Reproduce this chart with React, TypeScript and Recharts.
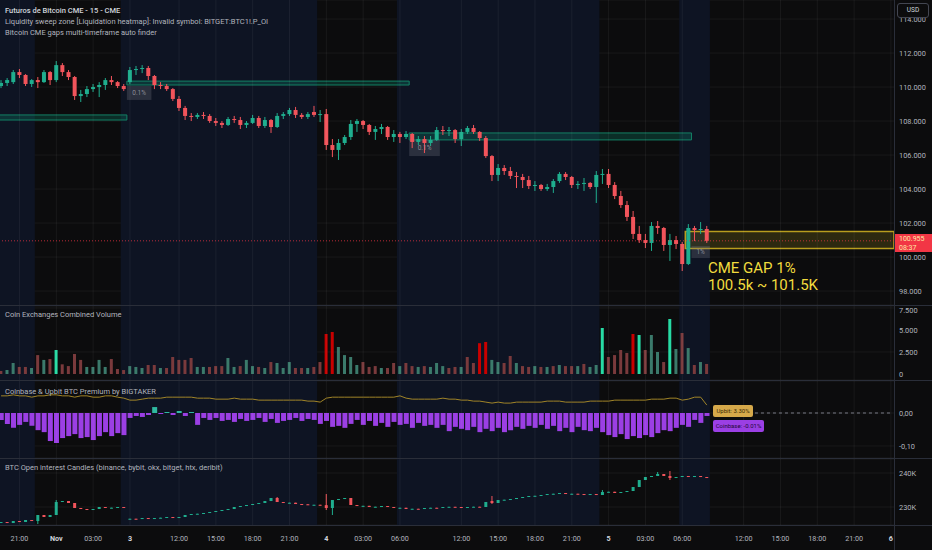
import React from "react";
import {
  ComposedChart,
  Bar,
  Line,
  XAxis,
  YAxis,
  CartesianGrid,
  ReferenceArea,
  ReferenceLine,
  Cell,
} from "recharts";

// 30-minute slots on the CME session timeline (KST), data stops at slot 115
const TOTAL_SLOTS = 146;

const tickSlots = [3, 9, 15, 21, 29, 35, 41, 47, 53, 59, 65, 75, 81, 87, 93, 99, 105, 111, 121, 127, 133, 139, 145];
const tickLabels = ["21:00", "Nov", "03:00", "3", "12:00", "15:00", "18:00", "21:00", "4", "03:00", "06:00", "12:00", "15:00", "18:00", "21:00", "5", "03:00", "06:00", "12:00", "15:00", "18:00", "21:00", "6"];
const dayLabels = ["Nov", "3", "4", "5", "6"];

// navy session shading, by slot range
const navySessions: [number, number][] = [[0, 5], [20, 51], [65, 97], [111, 115]];

// BTC CME futures, price in thousand USD
const candleOpen = [
  110.06, 110.24, 110.29, 110.88, 110.71, 110.18, 110.41, 110.29, 110.88, 110.41,
  111.29, 110.88, 110.59, 109.47, 109.59, 109.88, 110.0, 110.12, 110.41, 110.29,
  110.06, 110.29, 111.0, 111.06, 111.12, 110.65, 110.12, 110.06, 109.88, 109.3,
  108.77, 108.3, 108.24, 108.36, 108.3, 108.0, 107.89, 107.77, 108.12, 108.06,
  107.77, 107.89, 108.18, 107.71, 108.06, 107.65, 108.3, 108.41, 108.65, 108.36,
  108.24, 108.53, 108.36, 108.41, 106.59, 106.3, 106.71, 107.06, 107.83, 108.0,
  107.77, 107.36, 107.53, 107.65, 107.06, 107.24, 107.06, 107.24, 106.77, 106.94,
  106.71, 106.89, 107.47, 107.41, 107.47, 106.94, 107.36, 107.59, 107.36, 107.0,
  105.94, 104.83, 105.24, 105.06, 104.77, 104.71, 104.53, 104.18, 104.24, 104.0,
  104.12, 104.47, 104.89, 104.71, 104.24, 104.3, 104.36, 104.12, 104.83, 104.89,
  104.24, 103.59, 103.06, 102.36, 101.36, 101.0, 100.83, 101.83, 101.71, 100.71,
  101.0, 100.77, 99.59, 101.71, 101.59, 101.65,
];
const candleHigh = [
  110.41, 110.53, 111.0, 111.06, 110.76, 110.47, 110.59, 111.0, 110.94, 111.53,
  111.41, 111.0, 110.65, 109.83, 110.06, 110.18, 110.29, 110.53, 110.65, 110.35,
  110.18, 111.18, 111.24, 111.29, 111.24, 110.71, 110.29, 110.18, 109.94, 109.47,
  108.89, 108.47, 108.47, 108.53, 108.41, 108.18, 108.0, 108.24, 108.3, 108.24,
  108.0, 108.36, 108.3, 108.24, 108.12, 108.47, 108.53, 108.77, 108.83, 108.47,
  108.53, 108.89, 108.65, 108.71, 106.94, 106.94, 107.18, 108.06, 108.12, 108.06,
  107.83, 107.71, 107.83, 107.71, 107.47, 107.36, 107.41, 107.3, 107.12, 107.12,
  107.12, 107.65, 107.71, 107.65, 107.53, 107.53, 107.71, 107.77, 107.41, 107.12,
  106.0, 105.47, 105.41, 105.3, 105.0, 104.89, 104.77, 104.47, 104.3, 104.3,
  104.59, 105.0, 105.0, 104.77, 104.47, 104.65, 104.41, 105.06, 105.18, 105.18,
  104.41, 103.89, 103.3, 102.71, 101.83, 101.36, 102.06, 102.12, 101.77, 101.36,
  101.24, 100.89, 101.94, 101.83, 102.06, 101.83,
];
const candleLow = [
  109.94, 110.06, 110.18, 110.53, 110.06, 110.0, 109.94, 110.24, 110.12, 110.29,
  110.65, 110.41, 109.24, 109.12, 109.41, 109.71, 109.41, 109.83, 110.12, 109.94,
  109.77, 110.18, 110.71, 110.82, 110.41, 109.88, 109.88, 109.77, 109.18, 108.59,
  108.06, 108.0, 108.12, 108.12, 107.89, 107.71, 107.59, 107.71, 107.89, 107.53,
  107.59, 107.83, 107.59, 107.59, 107.3, 107.59, 108.12, 108.3, 108.18, 108.12,
  108.12, 108.24, 107.94, 106.3, 105.88, 105.71, 106.59, 106.89, 107.36, 107.53,
  107.18, 106.89, 107.24, 106.89, 106.77, 106.71, 106.94, 106.41, 106.59, 106.12,
  106.53, 106.83, 107.18, 107.12, 106.71, 106.53, 107.24, 107.24, 106.83, 105.83,
  104.47, 104.47, 104.83, 104.59, 104.06, 104.06, 104.0, 103.89, 103.89, 103.89,
  103.77, 104.36, 104.53, 104.06, 104.0, 103.89, 104.0, 103.18, 104.3, 104.06,
  103.41, 102.89, 102.12, 101.06, 100.83, 100.53, 100.36, 101.36, 100.36, 99.77,
  100.47, 99.18, 99.53, 100.94, 101.36, 100.83,
];
const candleClose = [
  110.24, 110.41, 110.88, 110.71, 110.18, 110.41, 110.29, 110.88, 110.41, 111.29,
  110.88, 110.59, 109.47, 109.59, 109.88, 110.0, 110.12, 110.41, 110.29, 110.06,
  109.88, 111.0, 111.06, 111.12, 110.65, 110.12, 110.06, 109.88, 109.3, 108.77,
  108.3, 108.24, 108.36, 108.3, 108.0, 107.89, 107.77, 108.12, 108.06, 107.77,
  107.89, 108.18, 107.71, 108.06, 107.65, 108.3, 108.41, 108.65, 108.36, 108.24,
  108.41, 108.36, 108.41, 106.59, 106.3, 106.71, 107.06, 107.83, 108.0, 107.77,
  107.36, 107.53, 107.65, 107.06, 107.24, 107.06, 107.24, 106.77, 106.94, 106.71,
  106.89, 107.47, 107.41, 107.47, 106.94, 107.36, 107.59, 107.36, 107.0, 105.94,
  104.83, 105.24, 105.06, 104.77, 104.71, 104.53, 104.18, 104.24, 104.0, 104.12,
  104.47, 104.89, 104.71, 104.24, 104.3, 104.36, 104.12, 104.83, 104.89, 104.24,
  103.59, 103.06, 102.36, 101.36, 101.0, 100.83, 101.83, 101.71, 100.71, 101.0,
  100.77, 99.59, 101.71, 101.59, 101.65, 100.955,
];
const lastPrice = 100.955;

// liquidity sweep zones and CME gap (thousand USD)
const sweepZones = [
  { from: 0, to: 20, low: 108.06, high: 108.36 },
  { from: 21, to: 66, low: 110.12, high: 110.35 },
  { from: 67, to: 112, low: 106.89, high: 107.3 },
];
const cmeGap = { from: 112, to: 145, low: 100.5, high: 101.5 };
const gapTags = [
  { from: 21, to: 24, low: 109.24, high: 110.06, text: "0.1%" },
  { from: 67, to: 71, low: 105.94, high: 106.89, text: "0.1%" },
  { from: 113, to: 115, low: 99.94, high: 100.65, text: "1%" },
];

// combined exchange volume; u/d muted, U/D highlighted
const volume = [
  340, 450, 1250, 800, 800, 680, 2150, 1600, 1700, 2730,
  1100, 900, 2270, 1600, 800, 800, 1600, 800, 1700, 570,
  450, 900, 800, 680, 1020, 1020, 680, 680, 1930, 1600,
  1600, 1820, 800, 800, 800, 900, 900, 1820, 800, 900,
  1600, 900, 800, 680, 1360, 1250, 680, 1360, 680, 680,
  680, 800, 1360, 4545, 4770, 3070, 2150, 1930, 1020, 1360,
  800, 900, 680, 680, 1250, 900, 1250, 900, 800, 900,
  800, 1250, 900, 680, 800, 800, 1930, 1250, 3500, 3640,
  1600, 1360, 1250, 2050, 1250, 900, 800, 900, 800, 800,
  900, 1020, 900, 900, 900, 1140, 800, 1020, 5230, 1930,
  2150, 2730, 2390, 4545, 4430, 2730, 4430, 2500, 1360, 6250,
  2840, 4660, 2950, 1020, 1360, 1140,
];
const volumeKind = [
  "d", "u", "u", "d", "d", "u", "d", "u", "d", "U",
  "d", "d", "d", "d", "u", "u", "u", "u", "d", "d",
  "d", "u", "u", "u", "d", "d", "u", "d", "d", "d",
  "d", "d", "u", "u", "d", "d", "d", "u", "u", "d",
  "u", "u", "d", "u", "d", "u", "u", "u", "d", "d",
  "u", "d", "d", "D", "D", "u", "u", "u", "u", "d",
  "d", "d", "u", "d", "d", "u", "d", "d", "u", "d",
  "u", "u", "u", "d", "d", "u", "d", "d", "D", "D",
  "u", "u", "d", "d", "u", "d", "d", "u", "d", "u",
  "d", "u", "d", "d", "u", "d", "u", "u", "U", "d",
  "d", "d", "d", "D", "U", "d", "u", "u", "d", "U",
  "u", "d", "u", "d", "u", "d",
];

// Coinbase premium (%) and Upbit premium line
const coinbasePremium = [
  -0.021, -0.033, -0.045, -0.036, -0.027, -0.039, -0.052, -0.058, -0.085, -0.091,
  -0.076, -0.07, -0.064, -0.076, -0.073, -0.082, -0.07, -0.058, -0.07, -0.061,
  -0.067, -0.015, -0.009, -0.012, -0.006, 0.018, -0.003, 0.003, -0.006, 0.006,
  -0.009, 0.003, -0.036, -0.015, -0.021, -0.015, -0.024, -0.021, -0.027, -0.018,
  -0.024, -0.021, -0.015, -0.027, -0.018, -0.03, -0.024, -0.021, -0.015, -0.024,
  -0.018, -0.021, -0.033, -0.024, -0.042, -0.039, -0.045, -0.033, -0.021, -0.036,
  -0.024, -0.039, -0.03, -0.042, -0.027, -0.036, -0.033, -0.045, -0.03, -0.039,
  -0.036, -0.045, -0.036, -0.055, -0.042, -0.048, -0.052, -0.042, -0.058, -0.048,
  -0.055, -0.045, -0.058, -0.052, -0.042, -0.048, -0.039, -0.045, -0.036, -0.048,
  -0.039, -0.055, -0.045, -0.058, -0.042, -0.052, -0.055, -0.045, -0.058, -0.067,
  -0.073, -0.064, -0.079, -0.07, -0.076, -0.067, -0.073, -0.061, -0.052, -0.055,
  -0.045, -0.036, -0.042, -0.021, -0.03, -0.009,
];
const upbitPremium = [
  0.052, 0.052, 0.055, 0.052, 0.052, 0.048, 0.052, 0.052, 0.055, 0.055,
  0.052, 0.052, 0.048, 0.052, 0.052, 0.048, 0.048, 0.052, 0.052, 0.048,
  0.045, 0.039, 0.039, 0.042, 0.045, 0.045, 0.045, 0.048, 0.048, 0.048,
  0.048, 0.048, 0.045, 0.045, 0.045, 0.042, 0.042, 0.042, 0.045, 0.042,
  0.042, 0.042, 0.039, 0.039, 0.039, 0.039, 0.039, 0.039, 0.039, 0.039,
  0.036, 0.036, 0.033, 0.045, 0.048, 0.048, 0.048, 0.048, 0.048, 0.048,
  0.048, 0.048, 0.048, 0.048, 0.048, 0.052, 0.045, 0.042, 0.042, 0.042,
  0.042, 0.042, 0.045, 0.042, 0.042, 0.039, 0.039, 0.036, 0.036, 0.033,
  0.03, 0.033, 0.03, 0.03, 0.033, 0.033, 0.033, 0.033, 0.033, 0.036,
  0.036, 0.036, 0.033, 0.033, 0.033, 0.033, 0.036, 0.036, 0.036, 0.036,
  0.039, 0.039, 0.039, 0.039, 0.039, 0.039, 0.042, 0.042, 0.042, 0.045,
  0.045, 0.039, 0.042, 0.048, 0.048, 0.024,
];

// open interest candles (K)
const oiOpen = [
  225.29, 225.59, 225.29, 225.88, 225.59, 226.18, 225.88, 227.65, 227.06, 227.65,
  231.47, 231.76, 231.18, 229.71, 229.41, 229.12, 229.41, 230.0, 229.71, 229.71,
  230.0, 226.47, 226.55, 226.47, 226.76, 226.47, 226.76, 226.85, 227.06, 226.76,
  227.06, 227.65, 227.94, 228.02, 228.24, 228.53, 228.82, 229.12, 229.41, 230.0,
  230.29, 230.59, 230.88, 231.18, 231.76, 232.65, 231.47, 231.18, 231.26, 230.88,
  230.8, 230.59, 230.66, 230.55, 229.71, 232.06, 232.35, 232.65, 230.59, 230.29,
  230.35, 230.0, 230.08, 230.29, 230.0, 229.71, 229.78, 229.41, 229.48, 229.41,
  229.71, 229.78, 229.71, 230.0, 230.06, 230.0, 229.71, 230.0, 230.08, 230.0,
  231.76, 231.18, 232.06, 232.14, 232.35, 232.65, 232.94, 233.24, 233.3, 233.53,
  233.82, 233.9, 234.12, 233.82, 233.9, 233.82, 233.53, 233.82, 233.53, 234.41,
  234.48, 234.12, 234.41, 234.71, 235.88, 237.94, 238.82, 239.12, 239.71, 239.12,
  238.53, 238.82, 239.12, 238.82, 239.12, 238.82,
];
const oiClose = [
  225.59, 225.29, 225.88, 225.59, 226.18, 225.88, 227.65, 227.06, 227.65, 231.47,
  231.76, 231.18, 229.71, 229.41, 229.12, 229.41, 230.0, 229.71, 229.8, 230.0,
  229.71, 226.55, 226.47, 226.76, 226.47, 226.76, 226.85, 227.06, 226.76, 227.06,
  227.65, 227.94, 228.02, 228.24, 228.53, 228.82, 229.12, 229.41, 230.0, 230.29,
  230.59, 230.88, 231.18, 231.76, 232.65, 231.47, 231.18, 231.26, 230.88, 230.8,
  230.59, 230.66, 230.55, 229.71, 232.06, 232.35, 232.65, 230.59, 230.29, 230.35,
  230.0, 230.08, 230.29, 230.0, 229.71, 229.78, 229.41, 229.48, 229.41, 229.71,
  229.78, 229.71, 230.0, 230.06, 230.0, 229.71, 230.0, 230.08, 230.0, 231.47,
  231.18, 232.06, 232.14, 232.35, 232.65, 232.94, 233.24, 233.3, 233.53, 233.82,
  233.9, 234.12, 233.82, 233.9, 233.82, 233.53, 233.82, 233.53, 234.41, 234.48,
  234.12, 234.41, 234.71, 235.88, 237.94, 238.82, 239.12, 239.71, 239.12, 238.53,
  238.82, 239.12, 238.82, 239.12, 238.82, 238.53,
];
// only the candles with a visible wick
const oiWicks: { i: number; high?: number; low?: number }[] = [
  { i: 6, low: 225.0 },
  { i: 9, high: 232.06 },
  { i: 45, high: 232.94 },
  { i: 53, high: 233.82, low: 229.12 },
  { i: 54, low: 227.65 },
  { i: 80, high: 233.24, low: 230.88 },
  { i: 98, high: 235.0 },
  { i: 107, high: 240.29 },
  { i: 109, high: 240.59, low: 237.94 },
];

const FONT = "Roboto, 'Noto Sans', Arial, sans-serif";
const UP = "#1fae8e";
const DOWN = "#f2545b";
const GRID = "rgba(255,255,255,0.055)";
const NAVY = "#0e1423";
const AXIS_TEXT = "#b2b5be";
const CHART_W = 934;
const AXIS_W = 38;

const rows = Array.from({ length: TOTAL_SLOTS }, (_, i) => {
  const has = i < candleClose.length;
  const w = oiWicks.find((x) => x.i === i);
  const oo = has ? oiOpen[i] : null;
  const oc = has ? oiClose[i] : null;
  return {
    i,
    o: has ? candleOpen[i] : null,
    h: has ? candleHigh[i] : null,
    l: has ? candleLow[i] : null,
    c: has ? candleClose[i] : null,
    vol: has ? volume[i] : null,
    cb: has ? coinbasePremium[i] : null,
    up: has ? upbitPremium[i] : null,
    oo,
    oc,
    oh: has ? w?.high ?? Math.max(oo as number, oc as number) : null,
    ol: has ? w?.low ?? Math.min(oo as number, oc as number) : null,
  };
});

function candleShape(k: { o: string; h: string; l: string; c: string }, bodyW: number) {
  return (props: any) => {
    const { x, y, width, height, payload } = props;
    const o = payload?.[k.o];
    const c = payload?.[k.c];
    const h = payload?.[k.h];
    const l = payload?.[k.l];
    if (o == null || c == null) return <g />;
    const span = h - l;
    const toY = (v: number) => (span > 0 ? y + ((h - v) / span) * height : y);
    const cx = x + width / 2;
    const top = toY(Math.max(o, c));
    const bot = toY(Math.min(o, c));
    const color = c >= o ? UP : DOWN;
    return (
      <g>
        <line x1={cx} x2={cx} y1={y} y2={y + Math.max(height, 0.5)} stroke={color} strokeWidth={1} />
        <rect x={cx - bodyW / 2} y={top} width={bodyW} height={Math.max(1, bot - top)} fill={color} />
      </g>
    );
  };
}

// session shading and vertical grid, put first in every pane
function sessionLayer() {
  return [
    ...navySessions.map(([a, b]) => (
      <ReferenceArea key={`s${a}`} x1={a} x2={b} fill={NAVY} fillOpacity={1} stroke="none" />
    )),
    ...tickSlots.map((t) => <ReferenceLine key={`g${t}`} x={t} stroke={GRID} strokeWidth={1} />),
  ];
}

function TimeTick(props: any) {
  const { x, y, payload } = props;
  const label = tickLabels[tickSlots.indexOf(payload.value)] ?? "";
  const isDay = dayLabels.includes(label);
  return (
    <text
      x={x}
      y={y}
      dy={4}
      textAnchor="middle"
      fontSize={7.2}
      fontFamily={FONT}
      fontWeight={isDay ? 700 : 400}
      fill={isDay ? "#d1d4dc" : AXIS_TEXT}
    >
      {label}
    </text>
  );
}

const yTick = { fill: AXIS_TEXT, fontSize: 7.4, fontFamily: FONT };
const noMargin = { top: 0, right: 0, bottom: 0, left: 0 };

const volColor: Record<string, string> = { u: "#3b7a6b", d: "#7a3a3c", U: "#27dba4", D: "#c80000" };

function Pane({ top, height, children }: { top: number; height: number; children: React.ReactNode }) {
  return <div style={{ position: "absolute", left: -2, top, width: CHART_W, height }}>{children}</div>;
}

function Legend({ top, text, strong }: { top: number; text: string; strong?: boolean }) {
  return (
    <div
      style={{
        position: "absolute",
        left: 5,
        top,
        fontSize: 7.5,
        lineHeight: "11px",
        fontFamily: FONT,
        color: strong ? "#d1d4dc" : AXIS_TEXT,
        fontWeight: strong ? 500 : 400,
        whiteSpace: "nowrap",
      }}
    >
      {text}
    </div>
  );
}

function HLine({ top }: { top: number }) {
  return <div style={{ position: "absolute", left: 0, top, width: 932, height: 1, background: "#2a2e39" }} />;
}

export default function App() {
  return (
    <div
      style={{
        position: "fixed",
        left: 0,
        top: 0,
        width: 932,
        height: 550,
        overflow: "hidden",
        background: "#0c0c0d",
        fontFamily: FONT,
      }}
    >
      {/* price pane */}
      <Pane top={0} height={305}>
        <ComposedChart width={CHART_W} height={305} data={rows} margin={noMargin} barCategoryGap={0}>
          {sessionLayer()}
          <CartesianGrid vertical={false} stroke={GRID} />
          <XAxis dataKey="i" hide />
          <YAxis
            orientation="right"
            width={AXIS_W}
            domain={[97.18, 115.12]}
            ticks={[98, 100, 102, 104, 106, 108, 110, 112, 114]}
            tickFormatter={(v) => `${v}.000`}
            axisLine={false}
            tickLine={false}
            tickSize={0}
            tickMargin={5}
            tick={yTick}
            allowDataOverflow
          />
          {sweepZones.map((z) => (
            <ReferenceArea
              key={z.from}
              x1={z.from}
              x2={z.to}
              y1={z.low}
              y2={z.high}
              fill="#0b8a6c"
              fillOpacity={0.28}
              stroke="#138065"
              strokeWidth={1}
            />
          ))}
          <ReferenceArea
            x1={cmeGap.from}
            x2={cmeGap.to}
            y1={cmeGap.low}
            y2={cmeGap.high}
            fill="#c8b020"
            fillOpacity={0.18}
            stroke="#b89d1e"
            strokeWidth={1.6}
          />
          {gapTags.map((g) => (
            <ReferenceArea
              key={g.from}
              x1={g.from}
              x2={g.to}
              y1={g.low}
              y2={g.high}
              fill="#787b86"
              fillOpacity={0.28}
              stroke="none"
              label={{ value: g.text, position: "center", fill: "#8a8d96", fontSize: 6.5, fontFamily: FONT }}
            />
          ))}
          <ReferenceLine y={lastPrice} stroke="#f23645" strokeOpacity={0.75} strokeDasharray="1 2" />
          <Bar
            dataKey={(d: any) => (d.h == null ? null : [d.l, d.h])}
            shape={candleShape({ o: "o", h: "h", l: "l", c: "c" }, 4)}
            isAnimationActive={false}
          />
        </ComposedChart>
      </Pane>

      {/* volume pane */}
      <Pane top={306} height={74}>
        <ComposedChart width={CHART_W} height={74} data={rows} margin={noMargin} barCategoryGap="22%">
          {sessionLayer()}
          <CartesianGrid vertical={false} stroke={GRID} />
          <XAxis dataKey="i" hide />
          <YAxis
            orientation="right"
            width={AXIS_W}
            domain={[-682, 7727]}
            ticks={[0, 2500, 5000, 7500]}
            tickFormatter={(v) => (v === 0 ? "0" : `${Math.floor(v / 1000)}.${String(v % 1000).padStart(3, "0")}`)}
            axisLine={false}
            tickLine={false}
            tickSize={0}
            tickMargin={5}
            tick={yTick}
            allowDataOverflow
          />
          <Bar dataKey="vol" isAnimationActive={false}>
            {rows.map((r) => (
              <Cell key={r.i} fill={volColor[volumeKind[r.i]] ?? "transparent"} />
            ))}
          </Bar>
        </ComposedChart>
      </Pane>

      {/* premium pane */}
      <Pane top={381} height={77}>
        <ComposedChart width={CHART_W} height={77} data={rows} margin={noMargin} barCategoryGap="12%">
          {sessionLayer()}
          <CartesianGrid vertical={false} stroke={GRID} />
          <XAxis dataKey="i" hide />
          <YAxis
            orientation="right"
            width={AXIS_W}
            domain={[-0.1364, 0.097]}
            ticks={[-0.1, 0]}
            tickFormatter={(v) => v.toFixed(2).replace(".", ",")}
            axisLine={false}
            tickLine={false}
            tickSize={0}
            tickMargin={5}
            tick={yTick}
            allowDataOverflow
          />
          <ReferenceLine
            segment={[
              { x: 116, y: 0 },
              { x: 145, y: 0 },
            ]}
            stroke="#787b86"
            strokeDasharray="3 3"
          />
          <Bar dataKey="cb" isAnimationActive={false}>
            {rows.map((r) => (
              <Cell key={r.i} fill={(r.cb ?? 0) > 0 ? "#2fb8a0" : "#9b3fe4"} />
            ))}
          </Bar>
          <Line
            dataKey="up"
            type="linear"
            stroke="#a08428"
            strokeWidth={1}
            dot={false}
            isAnimationActive={false}
          />
        </ComposedChart>
      </Pane>

      {/* open interest pane + time axis */}
      <Pane top={459} height={91}>
        <ComposedChart width={CHART_W} height={91} data={rows} margin={noMargin} barCategoryGap={0}>
          {sessionLayer()}
          <CartesianGrid vertical={false} stroke={GRID} />
          <XAxis
            dataKey="i"
            height={25}
            ticks={tickSlots}
            interval={0}
            axisLine={false}
            tickLine={false}
            tickSize={0}
            tickMargin={12}
            tick={<TimeTick />}
          />
          <YAxis
            orientation="right"
            width={AXIS_W}
            domain={[224.71, 244.12]}
            ticks={[230, 240]}
            tickFormatter={(v) => `${v}K`}
            axisLine={false}
            tickLine={false}
            tickSize={0}
            tickMargin={5}
            tick={yTick}
            allowDataOverflow
          />
          <Bar
            dataKey={(d: any) => (d.oh == null ? null : [d.ol, d.oh])}
            shape={candleShape({ o: "oo", h: "oh", l: "ol", c: "oc" }, 3)}
            isAnimationActive={false}
          />
        </ComposedChart>
      </Pane>

      {/* pane separators and price scale border */}
      <HLine top={305} />
      <HLine top={380} />
      <HLine top={458} />
      <HLine top={525} />
      <div style={{ position: "absolute", left: 894, top: 0, width: 1, height: 550, background: "#2a2e39" }} />

      {/* legends */}
      <div style={{ position: "absolute", left: 0, top: 4.5 }}>
        <Legend top={0} text="Futuros de Bitcoin CME - 15 - CME" strong />
        <Legend top={11} text="Liquidity sweep zone [Liquidation heatmap]: Invalid symbol: BITGET:BTC1!.P_OI" />
        <Legend top={22} text="Bitcoin CME gaps multi-timeframe auto finder" />
      </div>
      <Legend top={309} text="Coin Exchanges Combined Volume" />
      <Legend top={386} text="Coinbase & Upbit BTC Premium by BIGTAKER" />
      <Legend top={462} text="BTC Open interest Candles (binance, bybit, okx, bitget, htx, deribit)" />

      {/* CME gap annotation */}
      <div
        style={{
          position: "absolute",
          left: 708,
          top: 260,
          color: "#f2dc3e",
          fontSize: 15,
          lineHeight: "17px",
          fontFamily: FONT,
          whiteSpace: "nowrap",
        }}
      >
        <div>CME GAP 1%</div>
        <div>100.5k ~ 101.5K</div>
      </div>

      {/* last price tag */}
      <div
        style={{
          position: "absolute",
          left: 895,
          top: 234,
          width: 37,
          height: 18,
          background: "#f23645",
          color: "#ffe9a6",
          fontSize: 7,
          lineHeight: "8.5px",
          fontFamily: FONT,
          paddingLeft: 4,
          paddingTop: 1,
          boxSizing: "border-box",
        }}
      >
        <div>100.955</div>
        <div>08:37</div>
      </div>

      {/* premium value tags */}
      <div
        style={{
          position: "absolute",
          left: 713,
          top: 405,
          width: 40,
          height: 12,
          background: "#d6a94a",
          borderRadius: 2,
          color: "#3a2a06",
          fontSize: 6,
          lineHeight: "12px",
          fontFamily: FONT,
          textAlign: "center",
        }}
      >
        Upbit: 3.30%
      </div>
      <div
        style={{
          position: "absolute",
          left: 713,
          top: 420,
          width: 51,
          height: 12,
          background: "#9b3fe4",
          borderRadius: 2,
          color: "#24093a",
          fontSize: 6,
          lineHeight: "12px",
          fontFamily: FONT,
          textAlign: "center",
        }}
      >
        Coinbase: -0.01%
      </div>

      {/* currency button */}
      <div
        style={{
          position: "absolute",
          left: 897,
          top: 3,
          width: 32,
          height: 15,
          border: "1px solid #434651",
          borderRadius: 3,
          background: "#0c0c0d",
          color: "#d1d4dc",
          fontSize: 6.5,
          lineHeight: "13px",
          textAlign: "center",
          fontFamily: FONT,
          boxSizing: "border-box",
        }}
      >
        USD
      </div>
    </div>
  );
}
